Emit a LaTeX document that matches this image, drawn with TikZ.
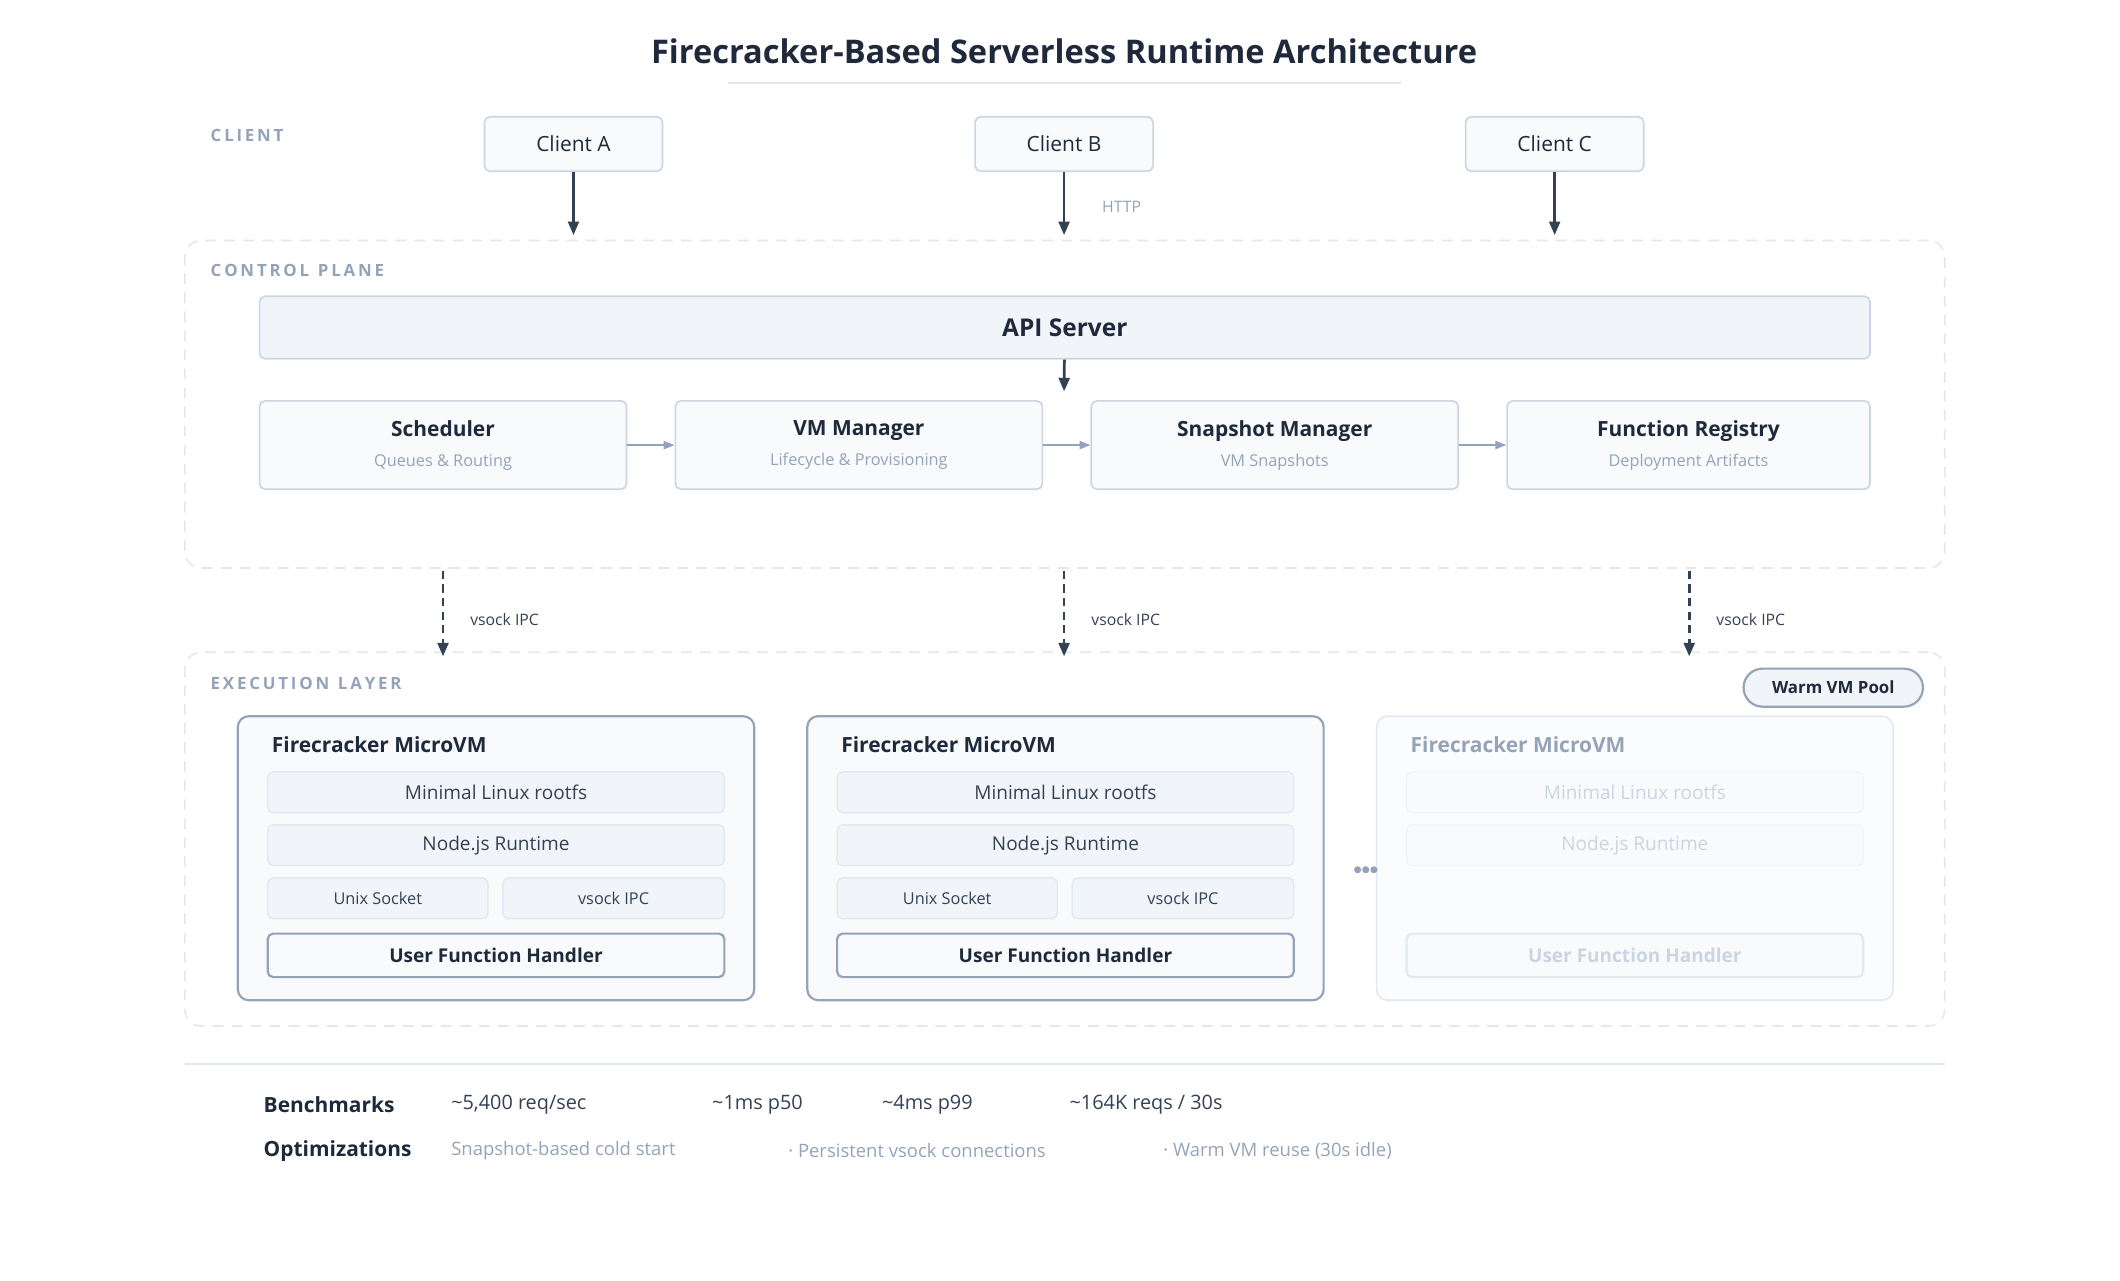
\documentclass[tikz,border=0pt]{standalone}
\usepackage{fontspec}
\setmainfont{Open Sans}
\usetikzlibrary{arrows.meta}
\definecolor{ink}{HTML}{1E293B}
\definecolor{dk}{HTML}{334155}
\definecolor{mute}{HTML}{94A3B8}
\definecolor{bd}{HTML}{CBD5E1}
\definecolor{fl}{HTML}{F1F5F9}
\definecolor{fl2}{HTML}{F8FAFC}
\definecolor{fade}{HTML}{CBD5E1}
\definecolor{fadebd}{HTML}{E2E8F0}
\begin{document}
\begin{tikzpicture}[x=0.5pt,y=-0.5pt,
 box/.style={draw=bd,fill=fl2,rounded corners=2pt,line width=0.6pt},
 abox/.style={draw=bd,fill=fl,rounded corners=2pt,line width=0.6pt},
 zone/.style={draw=fadebd,dashed,dash pattern=on 4pt off 3pt,rounded corners=6pt,line width=0.6pt},
 sec/.style={anchor=west,font=\fontsize{6.2}{7}\selectfont\bfseries,text=mute},
 arr/.style={-{Triangle[length=5pt,width=4pt]},draw=dk,line width=1pt},
 garr/.style={-{Triangle[length=4pt,width=3pt]},draw=mute,line width=0.6pt},
 darr/.style={arr,dash pattern=on 3pt off 2pt},
 lab/.style={font=\fontsize{5.8}{7}\selectfont,text=dk,anchor=west},
 vm/.style={draw=mute,fill=fl2,rounded corners=4pt,line width=0.8pt},
 row/.style={draw=fadebd,fill=fl,rounded corners=2pt,line width=0.5pt},
 uf/.style={draw=mute,fill=fl2,rounded corners=2pt,line width=0.8pt}]
\useasboundingbox (0,0) rectangle (1560,942);
\node[font=\fontsize{12}{14}\selectfont\bfseries,text=ink] (title) at (783,38) {Firecracker-Based Serverless Runtime Architecture};
\draw[fadebd,line width=1pt] (536,61) -- (1031,61);
\node[sec] (lc) at (148,100) {C\,L\,I\,E\,N\,T};
\foreach \n/\t/\x in {ca/Client A/422, cb/Client B/783, cc/Client C/1144}{
 \node[box,minimum width=65.5pt,minimum height=20pt,font=\fontsize{7.7}{9}\selectfont,text=ink] (\n) at (\x,106) {\t};
 \coordinate (\n e) at (\x,173);
 \draw[arr] (\n) -- (\n e);}
\node[lab,text=mute] (http) at (804,152) {HTTP};
\node[zone,minimum width=647.5pt,minimum height=120.5pt] (cp) at (783.5,297.5) {};
\node[sec] (lcp) at (148,199) {C\,O\,N\,T\,R\,O\,L\ \ P\,L\,A\,N\,E};
\node[abox,minimum width=592.5pt,minimum height=23pt,font=\fontsize{9}{11}\selectfont\bfseries,text=ink] (api) at (783.5,241) {API Server};
\coordinate (apie) at (783,288);
\draw[arr] (api) -- (apie);
\foreach \n/\t/\s/\x/\w in {sch/Scheduler/Queues \& Routing/326/135, vmm/VM Manager/Lifecycle \& Provisioning/632/135, snap/Snapshot Manager/VM Snapshots/938/135, reg/Function Registry/Deployment Artifacts/1242.5/133.5}{
 \node[box,minimum width=\w pt,minimum height=32.5pt,align=center,text=ink] (\n) at (\x,327.5) {{\fontsize{7.7}{10}\selectfont\bfseries \t}\\[-1pt]{\fontsize{6}{8}\selectfont\color{mute}\s}};}
\draw[garr] (sch) -- (vmm);
\draw[garr] (vmm) -- (snap);
\draw[garr] (snap) -- (reg);
\node[zone,minimum width=647.5pt,minimum height=137.5pt] (ex) at (783.5,617.5) {};
\node[sec] (lex) at (148,503) {E\,X\,E\,C\,U\,T\,I\,O\,N\ \ L\,A\,Y\,E\,R};
\foreach \x/\n in {326/v1,783/v2,1243/v3}{
 \coordinate (\n s) at (\x,420);
 \coordinate (\n e) at (\x,483);
 \draw[darr] (\n s) -- (\n e);
 \node[lab] (\n l) at (\x+13,456) {vsock IPC};}
\node[draw=mute,fill=fl,rounded corners=7pt,line width=0.8pt,minimum width=66pt,minimum height=14pt,font=\fontsize{6.2}{8}\selectfont\bfseries,text=ink] (pool) at (1349,506) {Warm VM Pool};
\foreach \c/\p in {365/a,784/b}{
 \node[vm,minimum width=190pt,minimum height=104.5pt] (\p vm) at (\c,631.5) {};
 \node[anchor=west,font=\fontsize{7.7}{9}\selectfont\bfseries,text=ink] (\p t) at (\c-172,548) {Firecracker MicroVM};
 \node[row,minimum width=168pt,minimum height=15pt,font=\fontsize{7}{8}\selectfont,text=dk] (\p r1) at (\c,583) {Minimal Linux rootfs};
 \node[row,minimum width=168pt,minimum height=15pt,font=\fontsize{7}{8}\selectfont,text=dk] (\p r2) at (\c,622) {Node.js Runtime};
 \node[row,minimum width=81pt,minimum height=15pt,font=\fontsize{6}{8}\selectfont,text=dk] (\p r3) at (\c-87,661) {Unix Socket};
 \node[row,minimum width=81.5pt,minimum height=15pt,font=\fontsize{6}{8}\selectfont,text=dk] (\p r4) at (\c+86.5,661) {vsock IPC};
 \node[uf,minimum width=168pt,minimum height=16pt,font=\fontsize{7}{8}\selectfont\bfseries,text=ink] (\p uf) at (\c,703) {User Function Handler};}
\node[draw=fadebd,fill=fl2!50,rounded corners=4pt,line width=0.6pt,minimum width=190pt,minimum height=104.5pt] (cvm) at (1203,631.5) {};
\node[anchor=west,font=\fontsize{7.7}{9}\selectfont\bfseries,text=mute] (ct) at (1031,548) {Firecracker MicroVM};
\node[draw=fadebd!50,fill=fl2,rounded corners=2pt,minimum width=168pt,minimum height=15pt,font=\fontsize{7}{8}\selectfont,text=fade] (cr1) at (1203,583) {Minimal Linux rootfs};
\node[draw=fadebd!50,fill=fl2,rounded corners=2pt,minimum width=168pt,minimum height=15pt,font=\fontsize{7}{8}\selectfont,text=fade] (cr2) at (1203,622) {Node.js Runtime};
\node[draw=fadebd,fill=fl2,rounded corners=2pt,line width=0.8pt,minimum width=168pt,minimum height=16pt,font=\fontsize{7}{8}\selectfont\bfseries,text=fade] (cuf) at (1203,703) {User Function Handler};
\foreach \dx in {-6,0,6}{\fill[mute] (1005+\dx,640) circle (1.3pt);}
\draw[fadebd,line width=0.8pt] (136,783) -- (1431,783);
\node[anchor=west,font=\fontsize{7.7}{9}\selectfont\bfseries,text=ink] (bm) at (187,813) {Benchmarks};
\foreach \x/\t/\n in {325/{\textasciitilde5,400 req/sec}/b1, 517/{\textasciitilde1ms p50}/b2, 642/{\textasciitilde4ms p99}/b3, 780/{\textasciitilde164K reqs / 30s}/b4}{
 \node[anchor=west,font=\fontsize{7.3}{9}\selectfont,text=dk] (\n) at (\x,813) {\t};}
\node[anchor=west,font=\fontsize{7.7}{9}\selectfont\bfseries,text=ink] (op) at (187,847) {Optimizations};
\foreach \x/\t/\n in {325/{Snapshot-based cold start}/o1, 573/{· Persistent vsock connections}/o2, 849/{· Warm VM reuse (30s idle)}/o3}{
 \node[anchor=west,font=\fontsize{6.8}{9}\selectfont,text=mute] (\n) at (\x,847) {\t};}
\end{tikzpicture}
\end{document}
